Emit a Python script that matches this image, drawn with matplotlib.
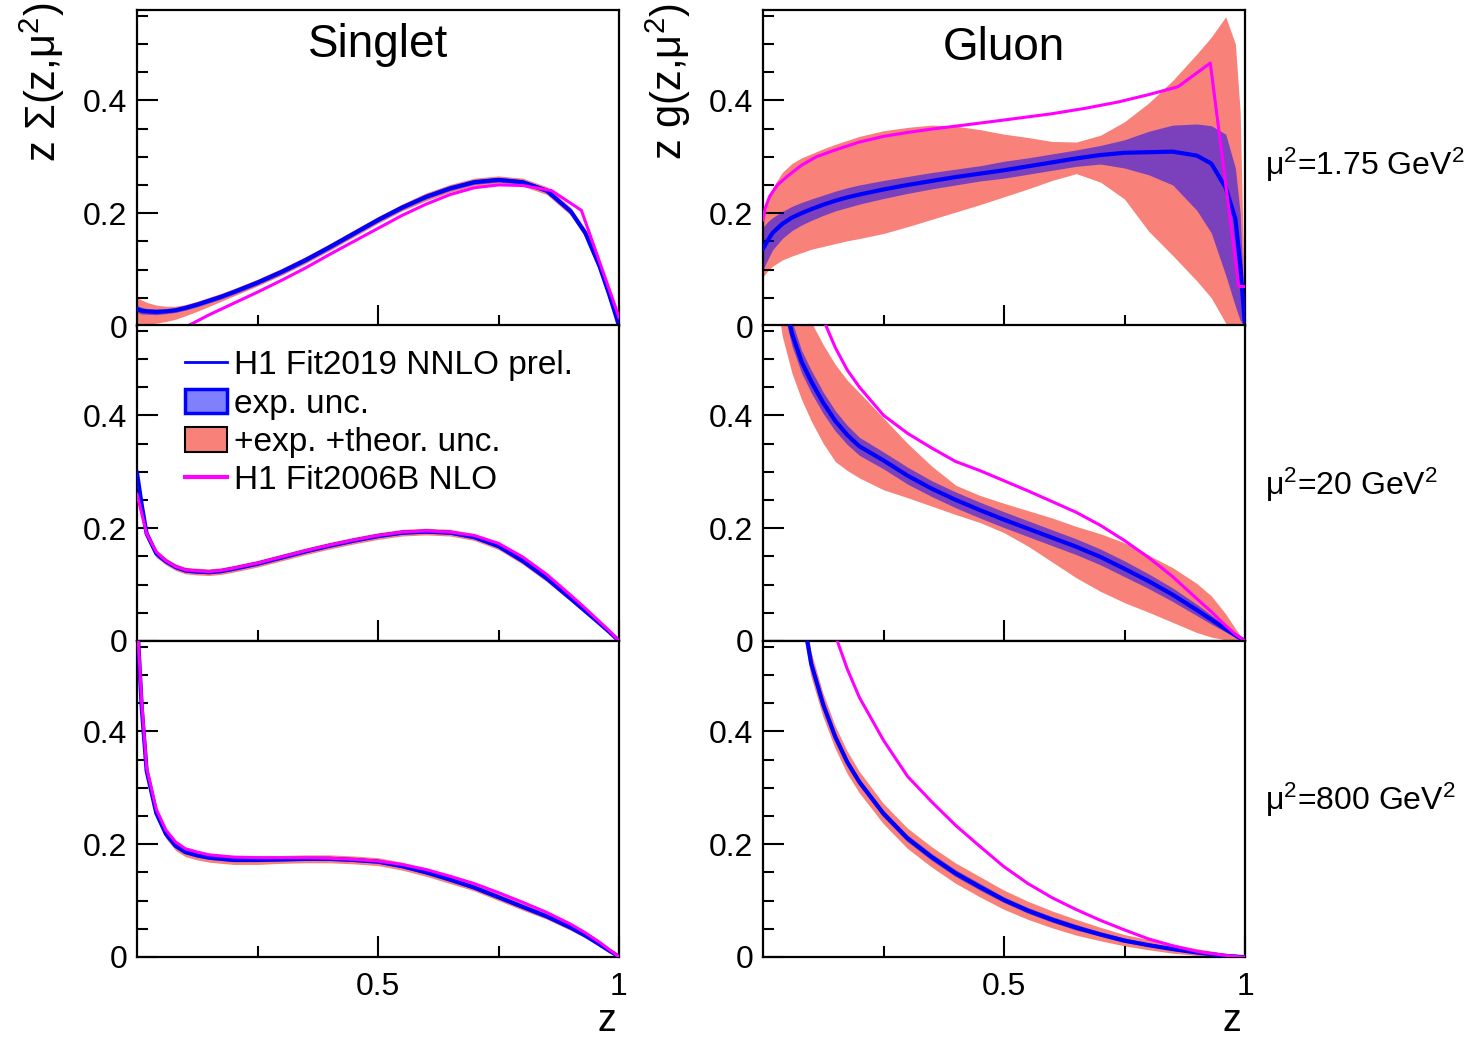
import numpy as np
import matplotlib
matplotlib.use("Agg")
import matplotlib.pyplot as plt
from matplotlib.patches import Patch
from matplotlib.lines import Line2D

plt.rcParams["font.family"] = ["Liberation Sans", "DejaVu Sans"]
plt.rcParams["mathtext.default"] = "regular"

BLUE = "#0000ff"
RED = "#f8827a"
MAGENTA = "#ff00ff"

# common z grid for the fitted curves
z = [0.0, 0.01, 0.02, 0.04, 0.06, 0.08, 0.1, 0.125, 0.15, 0.175, 0.2, 0.25, 0.3, 0.35, 0.4, 0.45,
     0.5, 0.55, 0.6, 0.65, 0.7, 0.75, 0.8, 0.85, 0.9, 0.93, 0.96, 0.98, 0.99, 1.0]

# ---- Singlet, mu2 = 1.75 GeV2
sing1_c = [0.030, 0.027, 0.026, 0.025, 0.026, 0.028, 0.032, 0.038, 0.045, 0.052, 0.060, 0.077, 0.096, 0.117,
           0.140, 0.164, 0.188, 0.210, 0.229, 0.244, 0.255, 0.259, 0.255, 0.240, 0.203, 0.165, 0.105, 0.055,
           0.028, 0.0]
sing1_exp_w = [0.006, 0.006, 0.005, 0.005, 0.004, 0.004, 0.004, 0.004, 0.004, 0.004, 0.004, 0.004, 0.004, 0.004,
               0.004, 0.004, 0.004, 0.004, 0.004, 0.004, 0.004, 0.004, 0.004, 0.004, 0.004, 0.004, 0.003, 0.003,
               0.002, 0.0]
sing1_tot_hi = [0.050, 0.046, 0.042, 0.037, 0.035, 0.035, 0.038, 0.044, 0.051, 0.058, 0.066, 0.083, 0.102, 0.123,
                0.146, 0.170, 0.194, 0.216, 0.236, 0.251, 0.262, 0.266, 0.262, 0.247, 0.210, 0.172, 0.112, 0.060,
                0.031, 0.0]
sing1_tot_lo = [0.0, 0.002, 0.003, 0.005, 0.008, 0.012, 0.018, 0.026, 0.035, 0.044, 0.053, 0.071, 0.090, 0.111,
                0.134, 0.158, 0.182, 0.204, 0.222, 0.237, 0.248, 0.252, 0.248, 0.233, 0.196, 0.158, 0.098, 0.050,
                0.025, 0.0]
sing1_nlo_z = [0.09, 0.105, 0.15, 0.2, 0.25, 0.3, 0.35, 0.4, 0.45, 0.5, 0.55, 0.6, 0.65, 0.7, 0.75, 0.8,
               0.86, 0.922, 0.995, 1.0]
sing1_nlo = [-0.006, 0.0, 0.02, 0.04, 0.06, 0.081, 0.103, 0.127, 0.15, 0.173, 0.196, 0.216, 0.233, 0.245,
             0.25, 0.249, 0.24, 0.205, 0.028, 0.015]

# ---- Singlet, mu2 = 20 GeV2
sing20_c = [0.298, 0.24, 0.19, 0.155, 0.141, 0.131, 0.125, 0.123, 0.122, 0.124, 0.128, 0.137, 0.148, 0.159,
            0.169, 0.178, 0.186, 0.192, 0.194, 0.192, 0.184, 0.168, 0.142, 0.111, 0.075, 0.053, 0.031, 0.016,
            0.008, 0.0]
sing20_exp_w = [0.006, 0.005, 0.004, 0.004, 0.003, 0.003, 0.003, 0.003, 0.003, 0.003, 0.003, 0.003, 0.003, 0.003,
                0.003, 0.003, 0.003, 0.003, 0.003, 0.003, 0.003, 0.003, 0.003, 0.003, 0.003, 0.002, 0.002, 0.001,
                0.001, 0.0]
sing20_tot_w = [0.012, 0.010, 0.008, 0.007, 0.006, 0.006, 0.006, 0.006, 0.006, 0.006, 0.006, 0.006, 0.006, 0.006,
                0.006, 0.006, 0.006, 0.006, 0.006, 0.006, 0.006, 0.006, 0.006, 0.006, 0.005, 0.004, 0.003, 0.002,
                0.001, 0.0]
sing20_nlo = [0.26, 0.225, 0.19, 0.158, 0.142, 0.132, 0.126, 0.124, 0.123, 0.125, 0.129, 0.138, 0.149, 0.160,
              0.170, 0.179, 0.187, 0.193, 0.195, 0.193, 0.187, 0.173, 0.149, 0.118, 0.081, 0.058, 0.034, 0.018,
              0.009, 0.0]

# ---- Singlet, mu2 = 800 GeV2
sing800_c = [0.60, 0.44, 0.33, 0.255, 0.218, 0.197, 0.186, 0.180, 0.176, 0.174, 0.172, 0.172, 0.173, 0.174,
             0.174, 0.172, 0.169, 0.161, 0.150, 0.137, 0.123, 0.106, 0.089, 0.072, 0.052, 0.038, 0.022, 0.011,
             0.006, 0.0]
sing800_exp_w = [0.006, 0.005, 0.004, 0.004, 0.003, 0.003, 0.003, 0.003, 0.003, 0.003, 0.003, 0.003, 0.003, 0.003,
                 0.003, 0.003, 0.003, 0.003, 0.003, 0.003, 0.003, 0.003, 0.003, 0.003, 0.003, 0.002, 0.002, 0.001,
                 0.001, 0.0]
sing800_tot_w = [0.012, 0.010, 0.009, 0.008, 0.008, 0.008, 0.008, 0.008, 0.008, 0.008, 0.008, 0.008, 0.007, 0.007,
                 0.007, 0.007, 0.007, 0.007, 0.007, 0.007, 0.006, 0.006, 0.006, 0.005, 0.005, 0.004, 0.003, 0.002,
                 0.001, 0.0]
sing800_nlo = [0.60, 0.45, 0.335, 0.262, 0.225, 0.204, 0.192, 0.186, 0.181, 0.179, 0.177, 0.176, 0.176, 0.176,
               0.175, 0.173, 0.170, 0.164, 0.155, 0.143, 0.130, 0.114, 0.097, 0.079, 0.058, 0.043, 0.026, 0.013,
               0.007, 0.0]

# ---- Gluon, mu2 = 1.75 GeV2
glu1_c = [0.137, 0.152, 0.165, 0.181, 0.192, 0.200, 0.207, 0.215, 0.222, 0.228, 0.233, 0.242, 0.250, 0.257,
          0.264, 0.270, 0.276, 0.283, 0.290, 0.297, 0.303, 0.307, 0.308, 0.309, 0.302, 0.288, 0.245, 0.19,
          0.11, 0.0]
glu1_exp_hi = [0.175, 0.185, 0.192, 0.203, 0.212, 0.219, 0.225, 0.232, 0.239, 0.245, 0.250, 0.258, 0.265, 0.272,
               0.278, 0.284, 0.292, 0.298, 0.305, 0.312, 0.320, 0.330, 0.345, 0.356, 0.358, 0.355, 0.340, 0.28,
               0.20, 0.0]
glu1_exp_lo = [0.100, 0.118, 0.135, 0.155, 0.169, 0.179, 0.187, 0.196, 0.204, 0.210, 0.216, 0.226, 0.235, 0.243,
               0.250, 0.257, 0.262, 0.269, 0.276, 0.283, 0.287, 0.280, 0.268, 0.250, 0.205, 0.165, 0.090, 0.035,
               0.01, 0.0]
glu1_tot_hi = [0.190, 0.222, 0.245, 0.272, 0.288, 0.298, 0.305, 0.314, 0.322, 0.329, 0.336, 0.346, 0.352, 0.356,
               0.354, 0.348, 0.340, 0.334, 0.327, 0.326, 0.338, 0.362, 0.395, 0.435, 0.482, 0.512, 0.548, 0.50,
               0.38, 0.0]
glu1_tot_lo = [0.087, 0.098, 0.106, 0.117, 0.124, 0.130, 0.136, 0.141, 0.146, 0.151, 0.155, 0.164, 0.176, 0.189,
               0.202, 0.215, 0.229, 0.243, 0.258, 0.270, 0.255, 0.225, 0.168, 0.125, 0.080, 0.050, 0.005, -0.03,
               -0.03, 0.0]
glu1_nlo_z = [0.0, 0.005, 0.014, 0.03, 0.05, 0.08, 0.111, 0.15, 0.2, 0.25, 0.3, 0.35, 0.417, 0.5, 0.598,
              0.67, 0.737, 0.8, 0.861, 0.928, 0.987, 1.0]
glu1_nlo = [0.188, 0.21, 0.23, 0.25, 0.265, 0.285, 0.30, 0.312, 0.326, 0.336, 0.343, 0.349, 0.356, 0.365,
            0.376, 0.386, 0.397, 0.41, 0.424, 0.466, 0.07, 0.07]

# ---- Gluon, mu2 = 20 GeV2
glu20_c = [0.90, 0.82, 0.74, 0.62, 0.545, 0.495, 0.46, 0.422, 0.39, 0.365, 0.345, 0.32, 0.293, 0.27,
           0.25, 0.232, 0.215, 0.199, 0.183, 0.167, 0.149, 0.128, 0.106, 0.082, 0.055, 0.038, 0.021, 0.010,
           0.005, 0.0]
glu20_exp_w = [0.03, 0.03, 0.028, 0.025, 0.022, 0.02, 0.02, 0.019, 0.018, 0.017, 0.016, 0.015, 0.015, 0.014,
               0.014, 0.014, 0.014, 0.014, 0.014, 0.014, 0.014, 0.014, 0.013, 0.012, 0.010, 0.008, 0.005, 0.003,
               0.002, 0.0]
glu20_tot_hi = [1.1, 1.0, 0.92, 0.8, 0.71, 0.63, 0.565, 0.525, 0.49, 0.462, 0.44, 0.395, 0.35, 0.31,
                0.276, 0.258, 0.244, 0.231, 0.218, 0.203, 0.19, 0.174, 0.152, 0.13, 0.102, 0.08, 0.048, 0.022,
                0.01, 0.0]
glu20_tot_lo = [0.8, 0.72, 0.65, 0.54, 0.475, 0.428, 0.39, 0.35, 0.318, 0.302, 0.289, 0.268, 0.254, 0.239,
                0.224, 0.21, 0.192, 0.168, 0.14, 0.112, 0.088, 0.068, 0.051, 0.033, 0.015, 0.007, 0.002, 0.0,
                0.0, 0.0]
glu20_nlo = [1.3, 1.2, 1.12, 0.98, 0.86, 0.76, 0.63, 0.57, 0.52, 0.48, 0.45, 0.40, 0.368, 0.342,
             0.318, 0.302, 0.284, 0.266, 0.247, 0.228, 0.205, 0.178, 0.148, 0.114, 0.075, 0.052, 0.027, 0.012,
             0.006, 0.0]

# ---- Gluon, mu2 = 800 GeV2
glu800_c = [2.0, 1.7, 1.4, 1.0, 0.78, 0.62, 0.52, 0.447, 0.39, 0.345, 0.31, 0.254, 0.21, 0.177,
            0.148, 0.124, 0.101, 0.082, 0.066, 0.052, 0.04, 0.029, 0.021, 0.014, 0.008, 0.005, 0.002, 0.001,
            0.0, 0.0]
glu800_exp_w = [0.02, 0.02, 0.015, 0.012, 0.01, 0.008, 0.007, 0.007, 0.007, 0.006, 0.006, 0.006, 0.006, 0.006,
                0.006, 0.006, 0.005, 0.005, 0.005, 0.005, 0.004, 0.004, 0.003, 0.003, 0.002, 0.002, 0.001, 0.001,
                0.0, 0.0]
glu800_tot_w = [0.04, 0.04, 0.035, 0.03, 0.03, 0.025, 0.022, 0.021, 0.02, 0.02, 0.019, 0.018, 0.018, 0.018,
                0.018, 0.018, 0.017, 0.016, 0.015, 0.014, 0.012, 0.010, 0.009, 0.008, 0.006, 0.005, 0.003, 0.002,
                0.001, 0.0]
glu800_nlo = [2.5, 2.2, 1.9, 1.45, 1.15, 0.95, 0.8, 0.67, 0.57, 0.51, 0.46, 0.384, 0.32, 0.275,
              0.233, 0.196, 0.16, 0.13, 0.105, 0.084, 0.065, 0.048, 0.032, 0.02, 0.01, 0.006, 0.003, 0.001,
              0.0, 0.0]

scale_labels = ["\u03bc$^{2}$=1.75 GeV$^{2}$", "\u03bc$^{2}$=20 GeV$^{2}$", "\u03bc$^{2}$=800 GeV$^{2}$"]

zz = np.array(z)


def sym(c, w):
    c, w = np.array(c), np.array(w)
    return c - w, c + w


panels = [
    # (row, col, central, exp_lo, exp_hi, tot_lo, tot_hi, nlo_z, nlo_y)
    (0, 0, sing1_c, *sym(sing1_c, sing1_exp_w), sing1_tot_lo, sing1_tot_hi, sing1_nlo_z, sing1_nlo),
    (1, 0, sing20_c, *sym(sing20_c, sing20_exp_w), *sym(sing20_c, sing20_tot_w), z, sing20_nlo),
    (2, 0, sing800_c, *sym(sing800_c, sing800_exp_w), *sym(sing800_c, sing800_tot_w), z, sing800_nlo),
    (0, 1, glu1_c, glu1_exp_lo, glu1_exp_hi, glu1_tot_lo, glu1_tot_hi, glu1_nlo_z, glu1_nlo),
    (1, 1, glu20_c, *sym(glu20_c, glu20_exp_w), glu20_tot_lo, glu20_tot_hi, z, glu20_nlo),
    (2, 1, glu800_c, *sym(glu800_c, glu800_exp_w), *sym(glu800_c, glu800_tot_w), z, glu800_nlo),
]

W, H = 1484, 1041
col_x = [137 / W, 763 / W]
col_w = 482 / W
row_y = [1 - 326 / H, 1 - 641 / H, 1 - 957 / H]
row_h = 316 / H

fig = plt.figure(figsize=(W / 100, H / 100), dpi=100)
axes = {}
for row, col, c, elo, ehi, tlo, thi, nz, ny in panels:
    ax = fig.add_axes([col_x[col], row_y[row], col_w, row_h])
    axes[(row, col)] = ax
    ax.fill_between(zz, tlo, thi, color=RED, lw=0, zorder=1)
    ax.fill_between(zz, elo, ehi, color=BLUE, alpha=0.5, lw=0, zorder=2)
    ax.plot(zz, c, color=BLUE, lw=3, zorder=3)
    ax.plot(nz, ny, color=MAGENTA, lw=2.2, zorder=4)
    ax.set_xlim(0, 1)
    ax.set_ylim(0, 0.56)
    ax.set_yticks([0, 0.2, 0.4])
    ax.set_yticklabels(["0", "0.2", "0.4"])
    ax.set_yticks(np.arange(0.05, 0.56, 0.05), minor=True)
    ax.set_xticks([0.5, 1.0])
    ax.set_xticks([0.25, 0.75], minor=True)
    if row == 2:
        ax.set_xticklabels(["0.5", "1"])
    else:
        ax.set_xticklabels([])
    ax.tick_params(which="both", direction="in", top=False, right=False, width=1.5, labelsize=23)
    ax.tick_params(which="major", length=15)
    ax.tick_params(which="minor", length=8)
    ax.tick_params(axis="y", pad=7)
    ax.tick_params(axis="x", pad=11)
    for sp in ax.spines.values():
        sp.set_linewidth(1.6)

axes[(0, 0)].text(0.5, 0.89, "Singlet", transform=axes[(0, 0)].transAxes,
                  ha="center", va="center", fontsize=33)
axes[(0, 1)].text(0.5, 0.88, "Gluon", transform=axes[(0, 1)].transAxes,
                  ha="center", va="center", fontsize=33)

fig.text(42 / W, 1 - 3 / H, "z \u03a3(z,\u03bc$^{2}$)", rotation=90, ha="center", va="top", fontsize=30)
fig.text(668 / W, 1 - 3 / H, "z g(z,\u03bc$^{2}$)", rotation=90, ha="center", va="top", fontsize=30)

for xl in [607, 1232]:
    fig.text(xl / W, 1 - 1031 / H, "z", ha="center", va="baseline", fontsize=27)

for lab, yc in zip(scale_labels, [165, 485, 800]):
    fig.text(1265 / W, 1 - yc / H, lab, ha="left", va="center", fontsize=23)

handles = [
    Line2D([], [], color=BLUE, lw=2),
    Patch(facecolor="#8080ff", edgecolor=BLUE, lw=2.5),
    Patch(facecolor=RED, edgecolor="black", lw=1.5),
    Line2D([], [], color=MAGENTA, lw=3),
]
labels = ["H1 Fit2019 NNLO prel.", "exp. unc.", "+exp. +theor. unc.", "H1 Fit2006B NLO"]
axes[(1, 0)].legend(handles, labels, loc="upper left", bbox_to_anchor=(0.1, 0.92),
                    frameon=False, fontsize=24, handlelength=1.25, handleheight=0.75,
                    handletextpad=0.2, labelspacing=0.22, borderpad=0, borderaxespad=0)

fig.savefig("out.png", dpi=100, facecolor="white")
